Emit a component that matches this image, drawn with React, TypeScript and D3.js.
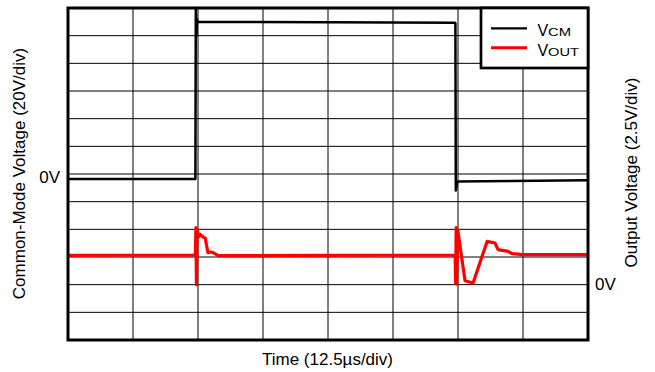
import React, { useRef, useEffect } from "react";
import * as d3 from "d3";

// time in µs (12.5 µs/div), V_CM in volts (20 V/div), V_OUT in volts (2.5 V/div)
const timeTicks = [0, 12.5, 25, 37.5, 50, 62.5, 75, 87.5, 100];
const vcmTicks = [-120, -100, -80, -60, -40, -20, 0, 20, 40, 60, 80, 100, 120];

const vcmTime = [0, 24.5, 24.58, 24.7, 24.8, 24.9, 50, 74.4, 74.5, 74.58, 74.7, 74.85, 85, 100];
const vcmValue = [-3.6, -3.6, 120, 100, 112, 110, 109.7, 109.3, 109, -12, -9, -5.4, -5.0, -4.5];

const voutTime = [
  0, 24.5, 24.6, 24.7, 24.85, 25.1, 25.4, 26.0, 26.4, 26.9, 27.4, 27.9, 28.9, 50,
  74.45, 74.55, 74.65, 74.75, 74.95, 76.35, 77.9, 80.6, 82.1, 82.7, 84.6, 85.4, 87.5, 100,
];
const voutValue = [
  2.65, 2.68, 5.15, 0, 5.0, 4.3, 4.55, 4.3, 4.2, 2.9, 2.95, 2.9, 2.62, 2.64,
  2.68, 0.1, 5.15, 0.05, 4.95, 0.36, 0.15, 3.91, 3.77, 3.16, 3.01, 2.8, 2.71, 2.72,
];

const seriesNames = ["CM", "OUT"];
const seriesColors = ["#000000", "#ff0000"];

export default function App() {
  const ref = useRef<SVGSVGElement>(null);

  useEffect(() => {
    const svg = d3.select(ref.current);
    svg.selectAll("*").remove();

    const left = 68, right = 588, top = 8, bottom = 340;
    const font = "'Liberation Sans', Arial, Helvetica, sans-serif";

    const x = d3.scaleLinear().domain([0, 100]).range([left, right]);
    const yL = d3.scaleLinear().domain([-120, 120]).range([bottom, top]);
    const yR = d3.scaleLinear().domain([-5, 25]).range([bottom, top]);

    // grid
    svg
      .append("g")
      .selectAll("line")
      .data(timeTicks.slice(1, -1))
      .enter()
      .append("line")
      .attr("x1", (d) => x(d))
      .attr("x2", (d) => x(d))
      .attr("y1", top)
      .attr("y2", bottom)
      .attr("stroke", "#000")
      .attr("stroke-width", 1);

    svg
      .append("g")
      .selectAll("line")
      .data(vcmTicks.slice(1, -1))
      .enter()
      .append("line")
      .attr("x1", left)
      .attr("x2", right)
      .attr("y1", (d) => yL(d))
      .attr("y2", (d) => yL(d))
      .attr("stroke", "#000")
      .attr("stroke-width", 1);

    // traces
    const vcm = vcmTime.map((t, i) => [t, vcmValue[i]]);
    const vout = voutTime.map((t, i) => [t, voutValue[i]]);

    svg
      .append("path")
      .datum(vcm)
      .attr("fill", "none")
      .attr("stroke", seriesColors[0])
      .attr("stroke-width", 2.5)
      .attr("stroke-linejoin", "round")
      .attr(
        "d",
        d3
          .line()
          .x((d) => x(d[0]))
          .y((d) => yL(d[1]))
      );

    svg
      .append("path")
      .datum(vout)
      .attr("fill", "none")
      .attr("stroke", seriesColors[1])
      .attr("stroke-width", 3.2)
      .attr("stroke-linejoin", "round")
      .attr(
        "d",
        d3
          .line()
          .x((d) => x(d[0]))
          .y((d) => yR(d[1]))
      );

    // frame
    svg
      .append("rect")
      .attr("x", left)
      .attr("y", top)
      .attr("width", right - left)
      .attr("height", bottom - top)
      .attr("fill", "none")
      .attr("stroke", "#000")
      .attr("stroke-width", 3);

    // legend
    const lg = svg.append("g");
    lg.append("rect")
      .attr("x", 481)
      .attr("y", top)
      .attr("width", right - 481)
      .attr("height", 60)
      .attr("fill", "#fff")
      .attr("stroke", "#000")
      .attr("stroke-width", 2.7);

    const subWidth = [23, 31];
    seriesNames.forEach((name, i) => {
      const ly = 28.3 + i * 19.4;
      lg.append("line")
        .attr("x1", 491)
        .attr("x2", 527)
        .attr("y1", ly)
        .attr("y2", ly)
        .attr("stroke", seriesColors[i])
        .attr("stroke-width", i === 0 ? 2.2 : 3);
      lg.append("text")
        .attr("x", 537.5)
        .attr("y", ly + 8)
        .attr("font-family", font)
        .attr("font-size", 16)
        .attr("fill", "#000")
        .text("V");
      lg.append("text")
        .attr("x", 548)
        .attr("y", ly + 8)
        .attr("font-family", font)
        .attr("font-size", 11)
        .attr("textLength", subWidth[i])
        .attr("lengthAdjust", "spacingAndGlyphs")
        .attr("fill", "#000")
        .text(name);
    });

    // labels
    svg
      .append("text")
      .attr("x", 60)
      .attr("y", 183)
      .attr("text-anchor", "end")
      .attr("font-family", font)
      .attr("font-size", 17)
      .text("0V");

    svg
      .append("text")
      .attr("x", 595)
      .attr("y", 290)
      .attr("font-family", font)
      .attr("font-size", 17)
      .text("0V");

    svg
      .append("text")
      .attr("transform", `translate(25,173.5) rotate(-90)`)
      .attr("text-anchor", "middle")
      .attr("font-family", font)
      .attr("font-size", 17)
      .text("Common-Mode Voltage (20V/div)");

    svg
      .append("text")
      .attr("transform", `translate(637,172.5) rotate(-90)`)
      .attr("text-anchor", "middle")
      .attr("font-family", font)
      .attr("font-size", 17)
      .text("Output Voltage (2.5V/div)");

    svg
      .append("text")
      .attr("x", 327.5)
      .attr("y", 365)
      .attr("text-anchor", "middle")
      .attr("font-family", font)
      .attr("font-size", 17)
      .text("Time (12.5\u00b5s/div)");
  }, []);

  return (
    <svg
      ref={ref}
      width={655}
      height={372}
      style={{ position: "absolute", left: 0, top: 0, background: "#fff" }}
    />
  );
}
